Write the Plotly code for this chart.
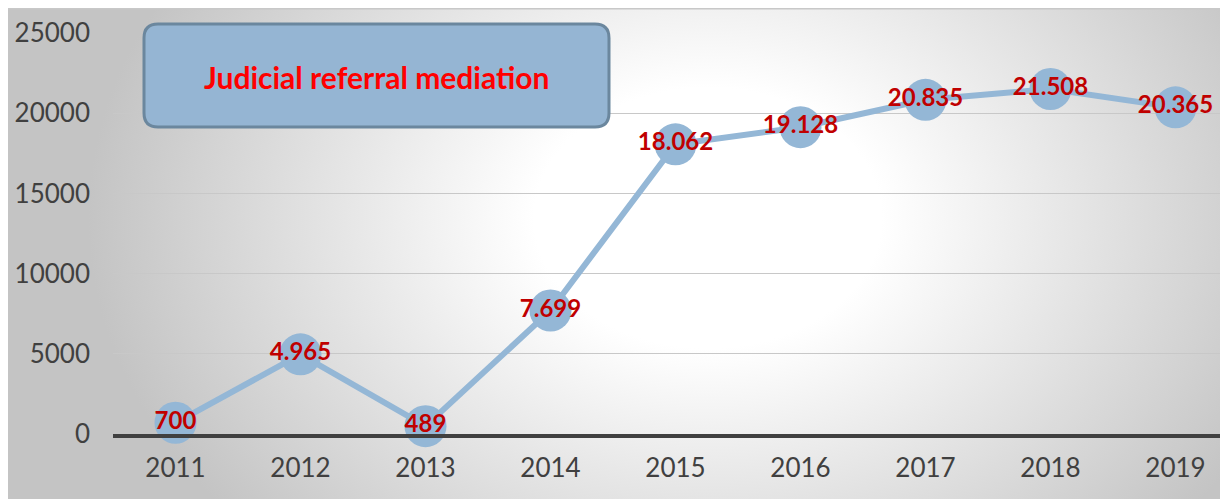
import base64
import plotly.graph_objects as go

years = ["2011", "2012", "2013", "2014", "2015", "2016", "2017", "2018", "2019"]
cases = [700, 4965, 489, 7699, 18062, 19128, 20835, 21508, 20365]
y_ticks = [0, 5000, 10000, 15000, 20000, 25000]
y_tick_text = ["0", "5000", "10000", "15000", "20000", "25000"]
title_text = "Judicial referral mediation"

labels = [f"{v:,}".replace(",", ".") for v in cases]

OFF = 8  # page body margin
W, H = 1220, 491
L, T = 113 - OFF, 33 - OFF
B = H - (434 - OFF)
R = 0
PW, PH = W - L - R, H - T - B


def px(x):  # screen pixel -> paper
    return (x - OFF - L) / PW


def py(y):
    return (H - B - (y - OFF)) / PH


svg = f"""<svg xmlns='http://www.w3.org/2000/svg' width='{W}' height='{H}' viewBox='0 0 {W} {H}' preserveAspectRatio='none'>
<defs><radialGradient id='g' gradientUnits='userSpaceOnUse' cx='700' cy='210' r='620'
 gradientTransform='translate(700 210) scale(1 0.75) translate(-700 -210)'>
<stop offset='0' stop-color='#ffffff'/><stop offset='0.28' stop-color='#ffffff'/>
<stop offset='1' stop-color='#c4c4c4'/></radialGradient></defs>
<rect x='0' y='0' width='{W}' height='{H}' fill='url(#g)'/>
<line x1='0' y1='0.75' x2='{W}' y2='0.75' stroke='#c8c8c8' stroke-width='1.5'/>
</svg>"""
src = "data:image/svg+xml;base64," + base64.b64encode(svg.encode()).decode()

fig = go.Figure()
fig.add_trace(go.Scatter(
    x=years, y=cases, mode="lines+markers+text",
    line=dict(color="#94b7d6", width=6),
    marker=dict(size=42, color="#94b7d6"),
    text=labels, textposition="middle center",
    textfont=dict(family="Lato", size=24, color="#c00000", weight="bold"),
    cliponaxis=False, hoverinfo="skip", showlegend=False,
))

x0, x1 = px(144), px(609)
y0, y1 = py(127), py(24)
rx, ry = 14 / PW, 14 / PH
path = (f"M {x0+rx},{y1} L {x1-rx},{y1} Q {x1},{y1} {x1},{y1-ry} "
        f"L {x1},{y0+ry} Q {x1},{y0} {x1-rx},{y0} L {x0+rx},{y0} "
        f"Q {x0},{y0} {x0},{y0+ry} L {x0},{y1-ry} Q {x0},{y1} {x0+rx},{y1} Z")
fig.add_shape(type="path", path=path, xref="paper", yref="paper",
              fillcolor="#95b5d3", line=dict(color="#6b879e", width=3), layer="above")
fig.add_annotation(x=px(376), y=py(77), xref="paper", yref="paper", text=title_text,
                   showarrow=False, xanchor="center", yanchor="middle",
                   font=dict(family="Lato", size=30, color="#ff0000", weight="bold"))

fig.add_layout_image(dict(source=src, xref="paper", yref="paper",
                          x=-L / PW, y=1 + T / PH, sizex=W / PW, sizey=H / PH,
                          xanchor="left", yanchor="top", sizing="stretch", layer="below"))

fig.update_layout(
    width=W, height=H, margin=dict(l=L, r=R, t=T, b=B, autoexpand=False),
    paper_bgcolor="white", plot_bgcolor="rgba(0,0,0,0)",
    xaxis=dict(type="category", range=[-0.5, -0.5 + PW / 125], showgrid=False,
               showline=True, linecolor="#404040", linewidth=4, ticks="",
               ticklabelstandoff=8, automargin=False,
               tickfont=dict(family="Lato", size=26, color="#404040")),
    yaxis=dict(range=[0, 25000], tickvals=y_ticks, ticktext=y_tick_text,
               showgrid=True, gridcolor="#c8c8c8",
               gridwidth=1, zeroline=False, showline=False, ticks="",
               ticklabelstandoff=22, automargin=False,
               tickfont=dict(family="Lato", size=26, color="#404040")),
)

fig.write_html("out.html")
